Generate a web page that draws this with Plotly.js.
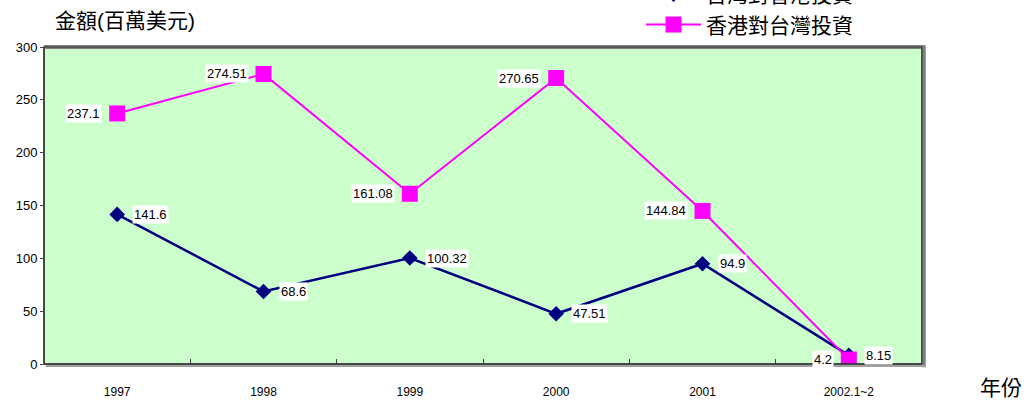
<!DOCTYPE html>
<html>
<head>
<meta charset="utf-8">
<script src="https://cdn.plot.ly/plotly-3.0.1.min.js"></script>
<style>html,body{margin:0;padding:0;background:#fff;}#chart{width:1027px;height:405px;}</style>
</head>
<body>
<div id="chart"></div>
<script>
var categories = ['1997', '1998', '1999', '2000', '2001', '2002.1~2'];
var twToHk = [141.6, 68.6, 100.32, 47.51, 94.9, 8.15];
var hkToTw = [237.1, 274.51, 161.08, 270.65, 144.84, 4.2];
var seriesNames = ['台灣對香港投資', '香港對台灣投資'];
var yTitle = '金額(百萬美元)';
var xTitle = '年份';

var FONT = 'Liberation Sans, Arial, "Noto Sans CJK TC", sans-serif';

var traces = [
  {
    x: categories, y: twToHk, name: seriesNames[0], type: 'scatter', mode: 'lines+markers',
    line: {color: '#000080', width: 2.5},
    marker: {symbol: 'diamond', size: 12, color: '#000080'}
  },
  {
    x: categories, y: hkToTw, name: seriesNames[1], type: 'scatter', mode: 'lines+markers',
    line: {color: '#FF00FF', width: 2},
    marker: {symbol: 'square', size: 16, color: '#FF00FF'}
  }
];

function fmt(v) { return String(v); }

var annotations = [];
categories.forEach(function (c, i) {
  annotations.push({
    x: i, y: hkToTw[i], xref: 'x', yref: 'y', text: fmt(hkToTw[i]), showarrow: false,
    xanchor: 'right', yanchor: 'middle', xshift: -15,
    bgcolor: '#FFFFFF', borderpad: 1, font: {family: FONT, size: 13, color: '#000'}
  });
  annotations.push({
    x: i, y: twToHk[i], xref: 'x', yref: 'y', text: fmt(twToHk[i]), showarrow: false,
    xanchor: 'left', yanchor: 'middle', xshift: 15,
    bgcolor: '#FFFFFF', borderpad: 1, font: {family: FONT, size: 13, color: '#000'}
  });
});
annotations.push({
  xref: 'paper', yref: 'paper', x: 0.01, y: 1.085, xanchor: 'left', yanchor: 'middle',
  text: yTitle, showarrow: false, font: {family: FONT, size: 21, color: '#000'}
});
annotations.push({
  xref: 'paper', yref: 'paper', x: 1.0638, y: -0.0757, xanchor: 'left', yanchor: 'middle',
  text: xTitle, showarrow: false, font: {family: FONT, size: 21, color: '#000'}
});

var layout = {
  width: 1027, height: 405,
  margin: {l: 44, r: 105, t: 47, b: 41, autoexpand: false},
  paper_bgcolor: '#FFFFFF',
  plot_bgcolor: '#CCFFCC',
  font: {family: FONT, color: '#000'},
  showlegend: true,
  legend: {
    x: 0.68, y: 1.23, xanchor: 'left', yanchor: 'top',
    itemwidth: 55,
    bgcolor: 'rgba(0,0,0,0)', font: {family: FONT, size: 21, color: '#000'},
    traceorder: 'normal'
  },
  xaxis: {
    type: 'category', range: [-0.5, 5.5], tickson: 'boundaries',
    ticks: 'inside', ticklen: 5, tickcolor: '#404040', tickwidth: 1,
    showgrid: false, zeroline: false, showline: false,
    tickfont: {family: FONT, size: 12, color: '#000'},
    ticklabelstandoff: 19, fixedrange: true
  },
  yaxis: {
    range: [0, 300], dtick: 50, tick0: 0,
    ticks: 'outside', ticklen: 3, tickcolor: '#404040',
    showgrid: false, zeroline: false, showline: false,
    tickfont: {family: FONT, size: 13, color: '#000'}, fixedrange: true
  },
  shapes: [
    {type: 'rect', xref: 'paper', yref: 'paper', x0: 0, x1: 1, y0: 0, y1: 1, line: {color: '#303030', width: 1.5}},
    {type: 'line', xref: 'paper', yref: 'paper', x0: 0, x1: 1.004, y0: 1, y1: 1, line: {color: '#808080', width: 4}},
    {type: 'line', xref: 'paper', yref: 'paper', x0: 1.002, x1: 1.002, y0: -0.01, y1: 1, line: {color: '#808080', width: 4}},
    {type: 'line', xref: 'paper', yref: 'paper', x0: 0.002, x1: 1.004, y0: -0.006, y1: -0.006, line: {color: '#A0A0A0', width: 2}},
    {type: 'rect', xref: 'paper', yref: 'paper', x0: 0, x1: 1, y0: 0, y1: 1, line: {color: '#303030', width: 1}, layer: 'above'}
  ],
  annotations: annotations
};

Plotly.newPlot('chart', traces, layout, {displayModeBar: false, staticPlot: true});
</script>
</body>
</html>
